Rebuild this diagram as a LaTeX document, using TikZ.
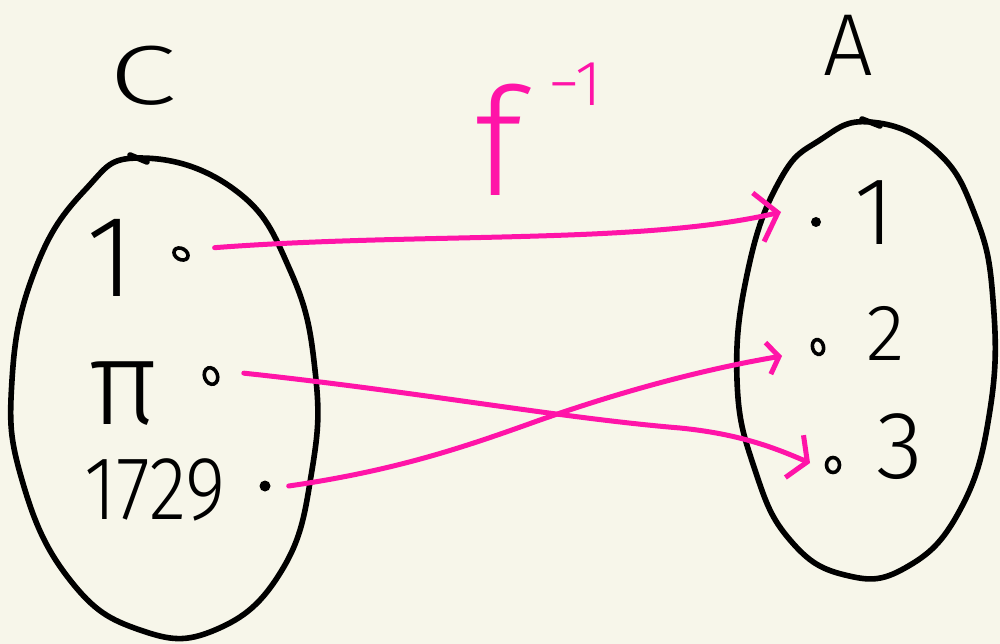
\documentclass[tikz,border=0pt]{standalone}
\usepackage{fontspec}
\setmainfont{Fira Sans Light}
\usetikzlibrary{arrows.meta,shapes.geometric}
\definecolor{paper}{HTML}{F7F6EA}
\definecolor{ink}{HTML}{FF14A8}
\newcommand{\fs}[1]{\fontsize{#1}{#1}\selectfont}
\begin{document}
\begin{tikzpicture}[x=1pt,y=-1pt,
  setline/.style={line width=5.6pt, line cap=round, line join=round},
  mapline/.style={draw=ink, line width=5pt, line cap=round, line join=round},
  lbl/.style={inner sep=0pt, text=black},
  hollow/.style={draw, ellipse, line width=3.6pt, minimum width=11pt, minimum height=15pt, inner sep=0pt},
  solid dot/.style={fill, circle, minimum size=11pt, inner sep=0pt}]
\fill[paper] (0,0) rectangle (1000,644);
\useasboundingbox (0,0) rectangle (1000,644);

% the two sets
\draw[setline] plot[smooth cycle, tension=0.75] coordinates {
  (140,158) (235,190) (290,270) (315,370) (312,470) (282,570)
  (215,630) (140,630) (70,580) (22,480) (12,380) (35,270) (85,190)};
\draw[setline] (130,155) -- (147,162);
\draw[setline] plot[smooth cycle, tension=0.75] coordinates {
  (870,122) (935,150) (975,215) (993,300) (990,410) (960,510)
  (905,568) (845,575) (790,540) (755,470) (737,380) (748,270) (780,180) (820,140)};
\draw[setline] (862,119) -- (880,126);

% set names
\node[lbl, font=\fs{84}, xscale=1.45] (C) at (143,76) {C};
\node[lbl, font=\fs{88}] (A) at (848,45) {A};

% elements of C
\node[lbl, font=\fs{116}] (c1) at (110,258) {1};
\node[lbl, font=\fs{120}] (cpi) at (124,394) {π};
\node[lbl, font=\fs{90}] (c1729) at (155,490) {\scalebox{0.86}[1]{1729}};
\node[hollow, rotate=60] (d1) at (181,254) {};
\node[hollow, minimum width=13pt, minimum height=17pt, rotate=20] (dpi) at (211,376) {};
\node[solid dot] (d1729) at (265,486) {};

% elements of A
\node[lbl, font=\fs{96}] (a1) at (874,213) {1};
\node[lbl, font=\fs{80}] (a2) at (886,333) {2};
\node[lbl, font=\fs{96}] (a3) at (900,447) {3};
\node[solid dot, minimum size=10pt] (e1) at (816,222) {};
\node[hollow, rotate=15] (e2) at (818,347) {};
\node[hollow, minimum width=13pt, minimum height=15pt] (e3) at (833,465) {};

% the map label
\node[ink, inner sep=0pt, font=\fs{150}] (f) at (499,140) {f};
\node[ink, inner sep=0pt, font=\fs{64}] (fexp) at (575,84) {−1};

% arrows of the inverse map
\coordinate (t1) at (781,212);
\coordinate (t2) at (782,356);
\coordinate (t3) at (810,463);
\draw[mapline, -{Straight Barb[length=20pt,width=50pt]}]
  ([xshift=30pt]d1.east) .. controls (420,232) and (640,245) .. (t1);
\draw[mapline, -{Straight Barb[length=14pt,width=46pt]}]
  ([xshift=25pt]dpi.east) .. controls (420,392) and (560,418) .. (680,428)
  .. controls (740,434) and (775,448) .. (t3);
\draw[mapline, -{Straight Barb[length=11pt,width=32pt]}]
  ([xshift=18pt]d1729.east) .. controls (400,470) and (470,445) .. (540,420)
  .. controls (620,392) and (700,370) .. (t2);
\end{tikzpicture}
\end{document}
